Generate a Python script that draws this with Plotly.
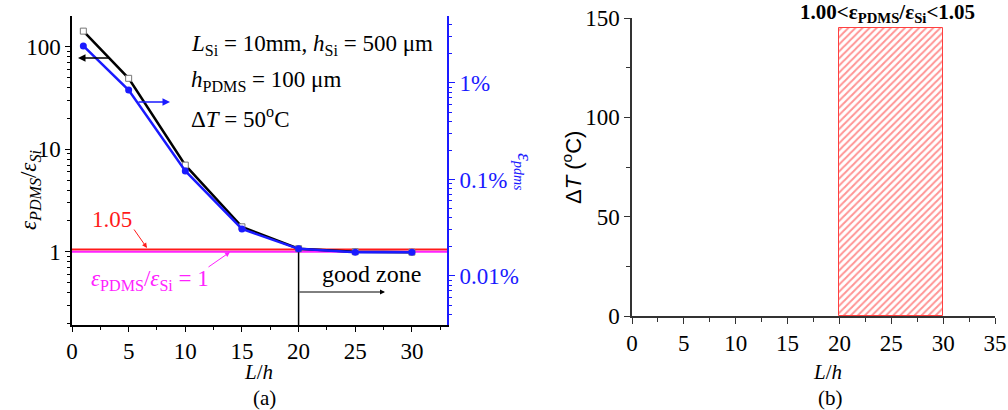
import plotly.graph_objects as go

# ---------------- data ----------------
ratio_x = [1, 5, 10, 15, 20, 25, 30]
ratio_vals = [142, 49.2, 7.0, 1.75, 1.07, 1.0, 0.99]          # eps_PDMS/eps_Si (left axis)
strain_vals = [2.42, 0.846, 0.1225, 0.0307, 0.0191, 0.0176, 0.0176]  # eps_pdms in % (right axis)
ref_high = 1.05
ref_low = 1.0
good_start = 20

zone_x = [20, 30]          # L/h range of the good zone
zone_top = 145             # Delta T upper bound (degC)

ratio_ticks = [1, 10, 100]
ratio_ticktext = ["1", "10", "100"]
strain_ticks = [0.01, 0.1, 1]
strain_ticktext = ["0.01%", "0.1%", "1%"]

W, H = 1008, 410
SERIF = "'Liberation Serif', 'Times New Roman', serif"
SANS = "'Liberation Sans', Arial, sans-serif"
BLUE = "#1a1aff"
RED = "#ff1a1a"
MAG = "#ff22ff"


def px(x):
    return x / W


def py(y):
    return 1 - y / H


def log_minors(lo_exp, hi_exp):
    vals = []
    for e in range(lo_exp, hi_exp + 1):
        for m in range(2, 10):
            vals.append(m * 10 ** e)
    return vals


fig = go.Figure()

# reference lines (a)
fig.add_trace(go.Scatter(x=[-5, 40], y=[ref_high, ref_high], mode="lines",
                         line=dict(color=RED, width=2), xaxis="x", yaxis="y",
                         hoverinfo="skip"))
fig.add_trace(go.Scatter(x=[-5, 40], y=[ref_low, ref_low], mode="lines",
                         line=dict(color=MAG, width=2), xaxis="x", yaxis="y",
                         hoverinfo="skip"))
# vertical boundary line at L/h = 20
fig.add_trace(go.Scatter(x=[good_start, good_start], y=[ratio_vals[ratio_x.index(good_start)], 0.05],
                         mode="lines", line=dict(color="black", width=1.5),
                         xaxis="x", yaxis="y", hoverinfo="skip"))

# black: ratio (left)
fig.add_trace(go.Scatter(x=ratio_x, y=ratio_vals, mode="lines+markers",
                         line=dict(color="black", width=2.5),
                         marker=dict(symbol="square", size=6, color="white",
                                     line=dict(color="#777777", width=1)),
                         xaxis="x", yaxis="y"))
# blue: strain (right)
fig.add_trace(go.Scatter(x=ratio_x, y=strain_vals, mode="lines+markers",
                         line=dict(color=BLUE, width=2.5),
                         marker=dict(symbol="circle", size=7, color=BLUE),
                         xaxis="x", yaxis="y2"))

# (b) hatched good zone
fig.add_trace(go.Bar(x=[(zone_x[0] + zone_x[1]) / 2], y=[zone_top],
                     width=[zone_x[1] - zone_x[0]],
                     marker=dict(color="white", line=dict(color="#ff4040", width=1),
                                 pattern=dict(shape="/", fgcolor="#ff2a2a", bgcolor="white",
                                              size=5, solidity=0.4)),
                     xaxis="x2", yaxis="y3"))

tickfont = dict(family=SERIF, size=23, color="black")
minor_x = [2.5, 7.5, 12.5, 17.5, 22.5, 27.5, 32.5]

fig.update_layout(
    width=W, height=H, autosize=False,
    margin=dict(l=0, r=0, t=0, b=0, pad=0, autoexpand=False),
    paper_bgcolor="white", plot_bgcolor="white",
    showlegend=False,
    font=dict(family=SERIF, size=22, color="black"),
    xaxis=dict(domain=[px(72), px(447)], range=[0, 33.1], anchor="y", automargin=False,
               tickvals=[0, 5, 10, 15, 20, 25, 30], ticks="outside", ticklen=5,
               tickwidth=1.2, tickcolor="black",
               minor=dict(tickvals=minor_x, ticks="outside", ticklen=3, tickcolor="black"),
               showline=True, linecolor="black", linewidth=1.5, showgrid=False,
               zeroline=False, tickfont=dict(tickfont)),
    xaxis3=dict(overlaying="x", side="top", anchor="y", range=[0, 33.1], automargin=False,
                tickvals=[0, 5, 10, 15, 20, 25, 30], ticks="inside", ticklen=5,
                tickwidth=1.2, tickcolor="black", showticklabels=False,
                minor=dict(tickvals=minor_x, ticks="inside", ticklen=3, tickcolor="black"),
                showline=True, linecolor="black", linewidth=1.5, showgrid=False,
                zeroline=False),
    yaxis=dict(domain=[py(325), py(16)], type="log", range=[-0.715, 2.30], anchor="x",
               automargin=False,
               tickvals=ratio_ticks, ticktext=ratio_ticktext, ticks="outside",
               ticklen=5, tickwidth=1.2, tickcolor="black",
               minor=dict(tickvals=log_minors(-1, 2), ticks="outside", ticklen=3,
                          tickcolor="black"),
               showline=True, linecolor="black", linewidth=1.5, showgrid=False,
               zeroline=False, tickfont=dict(tickfont)),
    yaxis2=dict(overlaying="y", side="right", anchor="x", type="log", automargin=False,
                range=[-2.508, 0.694], tickvals=strain_ticks, ticktext=strain_ticktext,
                ticks="outside", ticklen=6, tickwidth=1.2, tickcolor=BLUE,
                minor=dict(tickvals=log_minors(-3, 0), ticks="outside", ticklen=3,
                           tickcolor=BLUE),
                showline=True, linecolor=BLUE, linewidth=1.8, showgrid=False,
                zeroline=False, tickfont=dict(family=SERIF, size=23, color=BLUE)),
    xaxis2=dict(domain=[px(632), px(995)], range=[0, 35], anchor="y3", automargin=False,
                tickvals=[0, 5, 10, 15, 20, 25, 30, 35], ticks="outside", ticklen=6,
                tickwidth=1.2, tickcolor="#333333",
                minor=dict(tickvals=minor_x, ticks="outside", ticklen=4,
                           tickcolor="#333333"),
                showline=True, linecolor="#333333", linewidth=1.5, showgrid=False,
                zeroline=False, tickfont=dict(tickfont), ticklabeloverflow="allow"),
    yaxis3=dict(domain=[py(316), py(18)], range=[0, 150], anchor="x2", automargin=False,
                tickvals=[0, 50, 100, 150], ticks="outside", ticklen=6,
                tickwidth=1.2, tickcolor="#333333",
                minor=dict(tickvals=[25, 75, 125], ticks="outside", ticklen=4,
                           tickcolor="#333333"),
                showline=True, linecolor="#333333", linewidth=1.5, showgrid=False,
                zeroline=False, tickfont=dict(tickfont), ticklabeloverflow="allow"),
    bargap=0,
)

ann = []


def text(x, y, t, size=22, color="black", family=SERIF, angle=0, xanchor="center"):
    ann.append(dict(x=px(x), y=py(y), xref="paper", yref="paper", text=t,
                    showarrow=False, xanchor=xanchor, yanchor="middle",
                    textangle=angle, font=dict(family=family, size=size, color=color)))


def arrow(tx, ty, hx, hy, color="black", width=1.2, size=1.0):
    ann.append(dict(x=px(hx), y=py(hy), xref="paper", yref="paper", text="",
                    showarrow=True, ax=tx - hx, ay=ty - hy, axref="pixel", ayref="pixel",
                    arrowhead=2, arrowsize=size, arrowwidth=width, arrowcolor=color,
                    standoff=0, startstandoff=0))


# (a) info text
text(189, 45, "<i>L</i><sub>Si</sub> = 10mm, <i>h</i><sub>Si</sub> = 500 μm", size=23, xanchor="left")
text(189, 81, "<i>h</i><sub>PDMS</sub> = 100 μm", size=23, xanchor="left")
text(189, 117, "Δ<i>T</i> = 50<sup>o</sup>C", size=23, xanchor="left")

text(112, 219, "1.05", size=23, color=RED)
arrow(133, 228, 147, 248, color=RED, width=1)
text(150, 280, "<i>ε</i><sub>PDMS</sub>/<i>ε</i><sub>Si</sub> = 1", size=23, color=MAG)
arrow(207, 268, 230, 252, color=MAG, width=1)

text(371, 274, "good zone", size=24)
arrow(298, 292, 385, 292, color="black", width=1)

arrow(110, 58, 78, 58, color="black", width=1.5)
arrow(137, 102, 170, 102, color=BLUE, width=1.5)

# axis titles (a)
text(30, 190, "<i>ε</i><sub><i>PDMS</i></sub>/<i>ε</i><sub><i>Si</i></sub>", size=23, angle=-90)
text(523, 172, "<i>ε</i><sub><i>pdms</i></sub>", size=20, color=BLUE, angle=90)
text(258, 372, "<i>L</i>/<i>h</i>", size=21)
text(264, 398, "(a)", size=21)

# (b)
text(887, 13, "<b>1.00&lt;ε<sub>PDMS</sub>/ε<sub>Si</sub>&lt;1.05</b>", size=21)
text(572, 168, "Δ<i>T</i> (<sup>o</sup>C)", size=22, family=SANS, angle=-90)
text(827, 372, "<i>L</i>/<i>h</i>", size=21)
text(830, 398, "(b)", size=21)

fig.update_layout(annotations=ann)

# remove the browser's default 8px body margin so the figure fills the window
fig.write_html("out.html", config={"displayModeBar": False},
               post_script="document.body.style.margin='0px';")
